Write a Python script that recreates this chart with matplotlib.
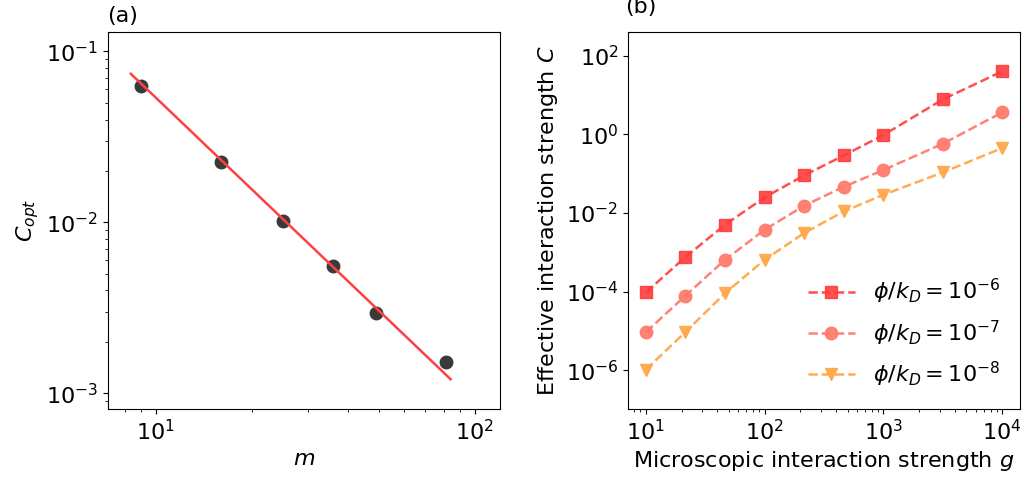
"""
Optimal coupling vs m, and effective vs microscopic interaction strength.
"""
import matplotlib
matplotlib.use('Agg')
import matplotlib.pyplot as plt
import numpy as np

font = {'size': 16}
plt.rc('font', **font)

# panel (a): optimal C for each m, plus the fitted power law
m_vals = [9, 16, 25, 36, 49, 81]
c_opt = [0.0629, 0.0225, 0.0102, 0.00556, 0.00294, 0.00153]
fit_m = [8.35, 84]
fit_c = [0.0740, 0.00121]

# panel (b): effective C vs microscopic g
g_vals = [10, 21.5, 46.4, 100, 215, 464, 1000, 3162, 10000]
c_1e6 = [9.6e-5, 7.6e-4, 5.05e-3, 0.025, 0.0907, 0.292, 0.962, 7.76, 40.0]
c_1e7 = [9.4e-6, 7.9e-5, 6.5e-4, 3.77e-3, 0.01535, 0.0467, 0.124, 0.579, 3.62]
c_1e8 = [1.05e-6, 9.4e-6, 9.2e-5, 6.5e-4, 3.1e-3, 0.011, 0.0292, 0.108, 0.45]
labels = [r'$\phi/k_D = 10^{-6}$', r'$\phi/k_D = 10^{-7}$', r'$\phi/k_D = 10^{-8}$']

fig = plt.figure(figsize=(10.24, 4.8), dpi=100)
ax1 = fig.add_axes([108/1024, 1 - 409/480, 392/1024, 377/480])
ax2 = fig.add_axes([628/1024, 1 - 409/480, 392/1024, 377/480])

ax1.plot(m_vals, c_opt, 'o', color='#3a3a3a', markersize=9, zorder=2)
ax1.plot(fit_m, fit_c, '-', color='#ff4040', linewidth=1.8, zorder=3)
ax1.set_xscale('log')
ax1.set_yscale('log')
ax1.set_xlim(7.08, 120)
ax1.set_ylim(8.1e-4, 0.13)
ax1.set_xlabel(r'$m$')
ax1.set_ylabel(r'$C_{opt}$')

ax2.plot(g_vals, c_1e6, 's--', color='#ff3c3c', alpha=0.9, markersize=9,
         linewidth=1.8, label=labels[0])
ax2.plot(g_vals, c_1e7, 'o--', color='#ff7b6e', alpha=0.95, markersize=9,
         linewidth=1.8, label=labels[1])
ax2.plot(g_vals, c_1e8, 'v--', color='#ffa84a', alpha=0.95, markersize=9,
         linewidth=1.8, label=labels[2])
ax2.set_xscale('log')
ax2.set_yscale('log')
ax2.set_ylim(1.05e-7, 4e2)
ax2.set_yticks([1e-6, 1e-4, 1e-2, 1e0, 1e2])
ax2.set_xlabel(r'Microscopic interaction strength $g$')
ax2.set_ylabel(r'Effective interaction strength $C$')
ax2.legend(loc='lower right', frameon=False, handlelength=2.1,
           labelspacing=0.55)

fig.text(107/1024, 1 - 22/480, '(a)', fontsize=16)
fig.text(625/1024, 1 - 13/480, '(b)', fontsize=16)

fig.savefig('out.png', dpi=100)
